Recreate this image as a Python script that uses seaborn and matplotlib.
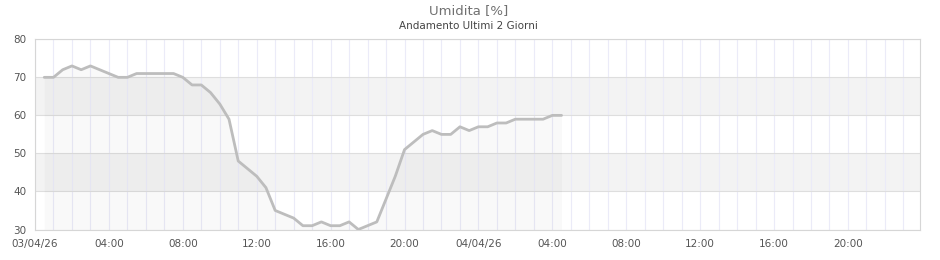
import numpy as np
import pandas as pd
import matplotlib
matplotlib.use("Agg")
import matplotlib.pyplot as plt
import matplotlib.dates as mdates
import seaborn as sns

# ---- data ----
title = "Umidita [%]"
subtitle = "Andamento Ultimi 2 Giorni"
start_time = "2026-04-03 00:30"
humidity = [70, 70, 72, 73, 72, 73, 72, 71, 70, 70,
            71, 71, 71, 71, 71, 70, 68, 68, 66, 63,
            59, 48, 46, 44, 41, 35, 34, 33, 31, 31,
            32, 31, 31, 32, 30, 31, 32, 38, 44, 51,
            53, 55, 56, 55, 55, 57, 56, 57, 57, 58,
            58, 59, 59, 59, 59, 60, 60]
x_tick_labels = ["03/04/26", "04:00", "08:00", "12:00", "16:00", "20:00",
                 "04/04/26", "04:00", "08:00", "12:00", "16:00", "20:00"]
y_ticks = [30, 40, 50, 60, 70, 80]
bands = [(40, 50), (60, 70)]

times = pd.date_range(start_time, periods=len(humidity), freq="30min")
df = pd.DataFrame({"time": times, "value": humidity})

sns.set_style("white")
plt.rcParams["font.family"] = ["DejaVu Sans"]

fig = plt.figure(figsize=(9.4, 2.6), dpi=100)
ax = fig.add_axes([35 / 940, (260 - 229.5) / 260, 885 / 940, 190.2 / 260])

x0 = pd.Timestamp("2026-04-03 00:00")
x1 = x0 + pd.Timedelta(hours=47.9)

# bands
for lo, hi in bands:
    ax.axhspan(lo, hi, color="#f3f3f3", zorder=0, lw=0)

# grid
ax.xaxis.set_minor_locator(mdates.HourLocator(interval=1))
ax.grid(True, axis="x", which="both", color="#ebebf8", lw=0.8, zorder=0.5)
ax.grid(True, axis="y", which="major", color="#dedede", lw=0.8, zorder=0.5)
ax.set_axisbelow(True)

# area under line
ax.fill_between(df["time"], df["value"], 30, color="black", alpha=0.025, lw=0, zorder=1)
sns.lineplot(data=df, x="time", y="value", ax=ax, color="#bdbdbd", lw=2.0, zorder=3)

ax.set_xlim(x0, x1)
ax.set_ylim(30, 80)
ax.set_yticks(y_ticks)
ax.set_yticklabels([str(v) for v in y_ticks])
tick_pos = pd.date_range(x0, periods=len(x_tick_labels), freq="4h")
ax.set_xticks(tick_pos)
ax.set_xticklabels(x_tick_labels)
ax.tick_params(axis="both", which="both", length=0, labelsize=7.5, colors="#555555")
ax.tick_params(axis="x", pad=6.5)
ax.tick_params(axis="y", pad=6)
ax.set_xlabel("")
ax.set_ylabel("")
for s in ax.spines.values():
    s.set_visible(True)
    s.set_color("#d6d6d6")
    s.set_linewidth(0.8)

fig.text(0.499, 1 - 11 / 260, title, ha="center", va="center", fontsize=9.5, color="#707070")
fig.text(0.498, 1 - 26 / 260, subtitle, ha="center", va="center", fontsize=7.5, color="#444444")

fig.savefig("out.png", dpi=100, facecolor="white")
